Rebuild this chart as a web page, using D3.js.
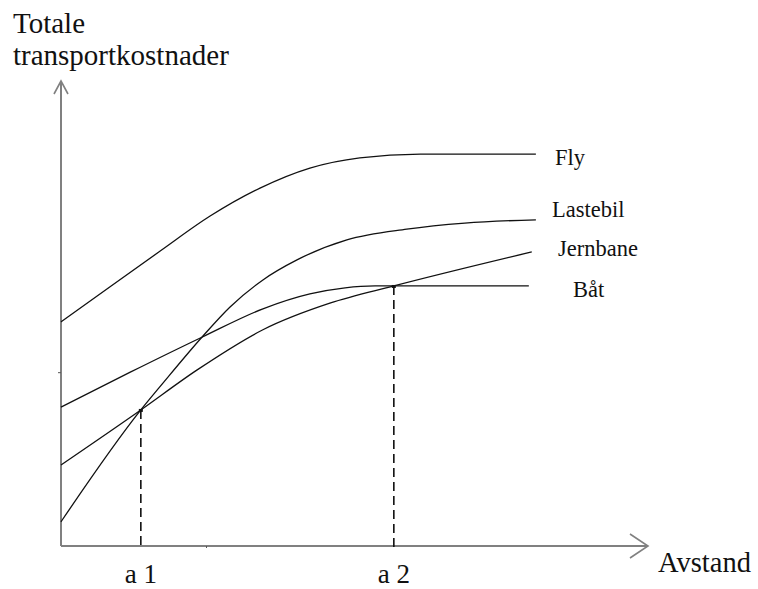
<!DOCTYPE html>
<html>
<head>
<meta charset="utf-8">
<script src="https://cdn.jsdelivr.net/npm/d3@7"></script>
<style>
  html, body { margin: 0; padding: 0; background: #fff; }
  svg { display: block; }
  text { font-family: "Liberation Serif", "Times New Roman", serif; fill: #111; }
</style>
</head>
<body>
<svg id="chart" width="758" height="589"></svg>
<script>
// ---- data (distance 0-100, cost 0-100) ----
const seriesNames = ["Fly", "Lastebil", "Jernbane", "Båt"];
const flyX      = [0, 8.3, 16.9, 25.4, 33.9, 42.4, 50.9, 61.2, 80.9];
const flyY      = [48.1, 55.6, 63.3, 70.8, 76.8, 81.1, 83.3, 84.1, 84.1];
const lastebilX = [0, 13.6, 17.4, 24.0, 28.8, 34.4, 40.2, 48.7, 58.9, 68.8, 80.9];
const lastebilY = [5.2, 29.2, 35.0, 44.8, 51.3, 57.1, 61.4, 65.7, 68.0, 69.3, 70.0];
const jernbaneX = [0, 13.6, 23.2, 34.4, 45.8, 56.7, 80.2];
const jernbaneY = [17.4, 29.2, 37.8, 46.4, 52.1, 55.8, 63.1];
const batX      = [0, 11.8, 24.0, 34.4, 42.4, 48.4, 53.5, 79.7];
const batY      = [29.8, 37.3, 44.8, 50.9, 54.1, 55.4, 55.8, 55.8];
const markX     = [13.6, 56.7];          // a 1, a 2
const markY     = [29.2, 55.8];
const markLabels = ["a 1", "a 2"];
const yTitle = ["Totale", "transportkostnader"];
const xTitle = "Avstand";
const minorTickX = [24.7];
const minorTickY = [37.3];

const svg = d3.select("#chart");
const x = d3.scaleLinear().domain([0, 100]).range([61, 648]);
const y = d3.scaleLinear().domain([0, 100]).range([546, 80]);

const axisColor = "#808080";

// axes via d3 (no labels), then arrows
const xAxis = d3.axisBottom(x).tickValues(minorTickX).tickSize(2).tickFormat("");
const yAxis = d3.axisLeft(y).tickValues(minorTickY).tickSize(3).tickFormat("");
const gx = svg.append("g").attr("transform", `translate(0,${y(0)})`).call(xAxis);
gx.select(".domain").attr("d", `M${x(0)},0H${x(100)}`).attr("stroke", axisColor).attr("stroke-width", 2);
gx.selectAll(".tick line").attr("stroke", "#555");
const gy = svg.append("g").attr("transform", `translate(${x(0)},0)`).call(yAxis);
gy.select(".domain").attr("d", `M0,${y(0)}V${y(100) + 1}`).attr("stroke", axisColor).attr("stroke-width", 2);
gy.selectAll(".tick line").attr("stroke", "#555");

// arrowheads
svg.append("path")
  .attr("d", `M${x(100) - 18},${y(0) - 12}L${x(100)},${y(0)}L${x(100) - 18},${y(0) + 12}`)
  .attr("fill", "none").attr("stroke", axisColor).attr("stroke-width", 1.6);
svg.append("path")
  .attr("d", `M${x(0) - 7},${y(100) + 14}L${x(0)},${y(100) + 1}L${x(0) + 7},${y(100) + 14}`)
  .attr("fill", "none").attr("stroke", axisColor).attr("stroke-width", 1.6);

// curves
const line = d3.line().x(d => x(d[0])).y(d => y(d[1])).curve(d3.curveMonotoneX);
const series = [
  [flyX, flyY], [lastebilX, lastebilY], [jernbaneX, jernbaneY], [batX, batY]
];
series.forEach(([xs, ys]) => {
  svg.append("path")
    .datum(xs.map((v, i) => [v, ys[i]]))
    .attr("d", line)
    .attr("fill", "none")
    .attr("stroke", "#111")
    .attr("stroke-width", 1.3);
});

// dashed drop lines
markX.forEach((mx, i) => {
  svg.append("line")
    .attr("x1", x(mx)).attr("x2", x(mx))
    .attr("y1", y(markY[i])).attr("y2", y(0) + 3)
    .attr("stroke", "#111").attr("stroke-width", 1.6)
    .attr("stroke-dasharray", "9,5");
  svg.append("rect")
    .attr("x", x(mx) - 2).attr("y", y(markY[i]) - 1)
    .attr("width", 4).attr("height", 3).attr("fill", "#111");
  svg.append("text")
    .attr("x", x(mx) - 16).attr("y", 583)
    .attr("font-size", 27)
    .text(markLabels[i]);
});

// series labels
const labelPos = [[555, 165], [552, 217], [558, 256], [573, 297]];
seriesNames.forEach((n, i) => {
  svg.append("text")
    .attr("x", labelPos[i][0]).attr("y", labelPos[i][1])
    .attr("font-size", 22.5)
    .text(n);
});

// axis titles
svg.append("text").attr("x", 13).attr("y", 33).attr("font-size", 29).text(yTitle[0]);
svg.append("text").attr("x", 13).attr("y", 65).attr("font-size", 29).text(yTitle[1]);
svg.append("text").attr("x", 658).attr("y", 572).attr("font-size", 28.5).text(xTitle);
</script>
</body>
</html>
